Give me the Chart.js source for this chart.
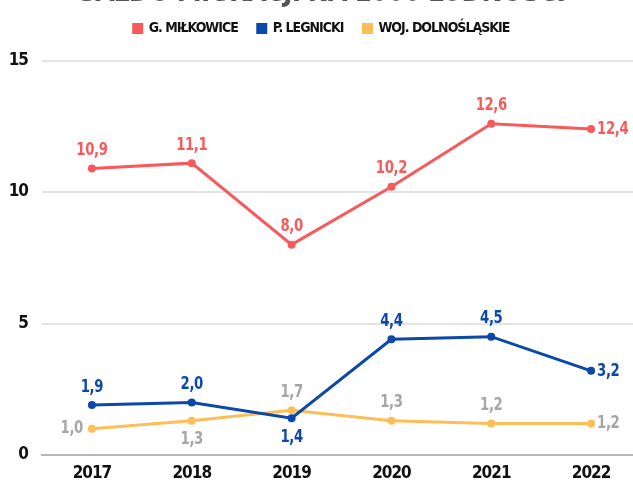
<!DOCTYPE html>
<html>
<head>
<meta charset="utf-8">
<script src="https://cdn.jsdelivr.net/npm/chart.js@4"></script>
<style>
  html, body { margin: 0; padding: 0; background: #fff; overflow: hidden; }
  #wrap { position: absolute; left: 0; top: -20px; width: 645px; height: 505px; }
</style>
</head>
<body>
<div id="wrap"><canvas id="migChart"></canvas></div>
<script>
let years = ["2017", "2018", "2019", "2020", "2021", "2022"];
let milkowice = [10.9, 11.1, 8.0, 10.2, 12.6, 12.4];
let legnicki = [1.9, 2.0, 1.4, 4.4, 4.5, 3.2];
let dolnoslaskie = [1.0, 1.3, 1.7, 1.3, 1.2, 1.2];
let yTicks = [0, 5, 10, 15];

const FONT = "'Liberation Sans Narrow', 'DejaVu Sans Condensed', sans-serif";

// where each value label sits relative to its point
let milkowicePos = ["top", "top", "top", "top", "top", "right"];
let legnickiPos = ["top", "top", "bottom", "top", "top", "right"];
let dolnoslaskiePos = ["left", "bottom", "top", "top", "top", "right"];

// tighter letters, the original uses a narrow display font
const tightText = {
    id: "tightText",
    beforeUpdate(chart) { chart.ctx.letterSpacing = "-1px"; },
    beforeDraw(chart) { chart.ctx.letterSpacing = "-1px"; }
};

// extra room under the legend
const legendGap = {
    id: "legendGap",
    beforeInit(chart) {
        const origFit = chart.legend.fit;
        chart.legend.fit = function () {
            origFit.call(this);
            this.height += 15;
        };
    }
};

const valueLabels = {
    id: "valueLabels",
    afterDatasetsDraw(chart) {
        let ctx = chart.ctx;
        let sx = 0.82;
        ctx.save();
        ctx.font = "bold 18px " + FONT;
        ctx.letterSpacing = "-0.5px";
        chart.data.datasets.forEach((ds, i) => {
            let meta = chart.getDatasetMeta(i);
            meta.data.forEach((pt, j) => {
                let txt = ds.data[j].toFixed(1).replace(".", ",");
                let pos = ds.labelPos[j];
                let x = pt.x, y = pt.y;
                ctx.fillStyle = ds.labelColor;
                ctx.textBaseline = "middle";
                ctx.textAlign = "center";
                if (pos === "top") y -= 18;
                if (pos === "bottom") y += 19;
                if (pos === "left") { ctx.textAlign = "right"; x -= 9; }
                if (pos === "right") { ctx.textAlign = "left"; x += 6; }
                ctx.save();
                ctx.translate(x, y);
                ctx.scale(sx, 1);
                ctx.fillText(txt, 0, 0);
                ctx.restore();
            });
        });
        ctx.restore();
    }
};

const ctx = document.getElementById("migChart").getContext("2d");

new Chart(ctx, {
    type: "line",
    data: {
        labels: years,
        datasets: [
            {
                label: "G. MIŁKOWICE",
                data: milkowice,
                borderColor: "#f85a5c",
                backgroundColor: "#f85a5c",
                labelColor: "#f85a5c",
                labelPos: milkowicePos
            },
            {
                label: "P. LEGNICKI",
                data: legnicki,
                borderColor: "#0b48ab",
                backgroundColor: "#0b48ab",
                labelColor: "#0b48ab",
                labelPos: legnickiPos
            },
            {
                label: "WOJ. DOLNOŚLĄSKIE",
                data: dolnoslaskie,
                borderColor: "#fdbd57",
                backgroundColor: "#fdbd57",
                labelColor: "#a6a6a6",
                labelPos: dolnoslaskiePos
            }
        ]
    },
    options: {
        responsive: true,
        maintainAspectRatio: false,
        animation: false,
        elements: {
            line: { borderWidth: 3, tension: 0 },
            point: { radius: 4, borderWidth: 0, hoverRadius: 4 }
        },
        layout: { padding: { top: 0, right: 2, left: 0, bottom: 0 } },
        plugins: {
            title: {
                display: true,
                text: "SALDO MIGRACJI NA 1000 LUDNOŚCI",
                color: "#555",
                font: { family: FONT, size: 28, weight: "bold" },
                padding: { top: -3, bottom: -9 }
            },
            legend: {
                labels: {
                    boxWidth: 8,
                    boxHeight: 8,
                    padding: 20,
                    color: "#111",
                    font: { family: FONT, size: 14, weight: "bold" }
                }
            },
            tooltip: { enabled: false }
        },
        scales: {
            x: {
                offset: true,
                grid: { display: false, drawTicks: false },
                border: { display: true, color: "#b5b5b5", width: 2 },
                ticks: {
                    color: "#111",
                    padding: 8,
                    font: { family: FONT, size: 17, weight: "bold" }
                },
                afterFit(scale) { scale.height = 30; }
            },
            y: {
                min: 0,
                max: 15,
                afterBuildTicks(scale) { scale.ticks = yTicks.map(v => ({ value: v })); },
                grid: { color: "#e3e3e3", lineWidth: 2, drawTicks: false },
                border: { display: false },
                ticks: {
                    color: "#111",
                    padding: 14,
                    font: { family: FONT, size: 17, weight: "bold" }
                },
                afterFit(scale) { scale.width = 42; }
            }
        }
    },
    plugins: [tightText, legendGap, valueLabels]
});
</script>
</body>
</html>
